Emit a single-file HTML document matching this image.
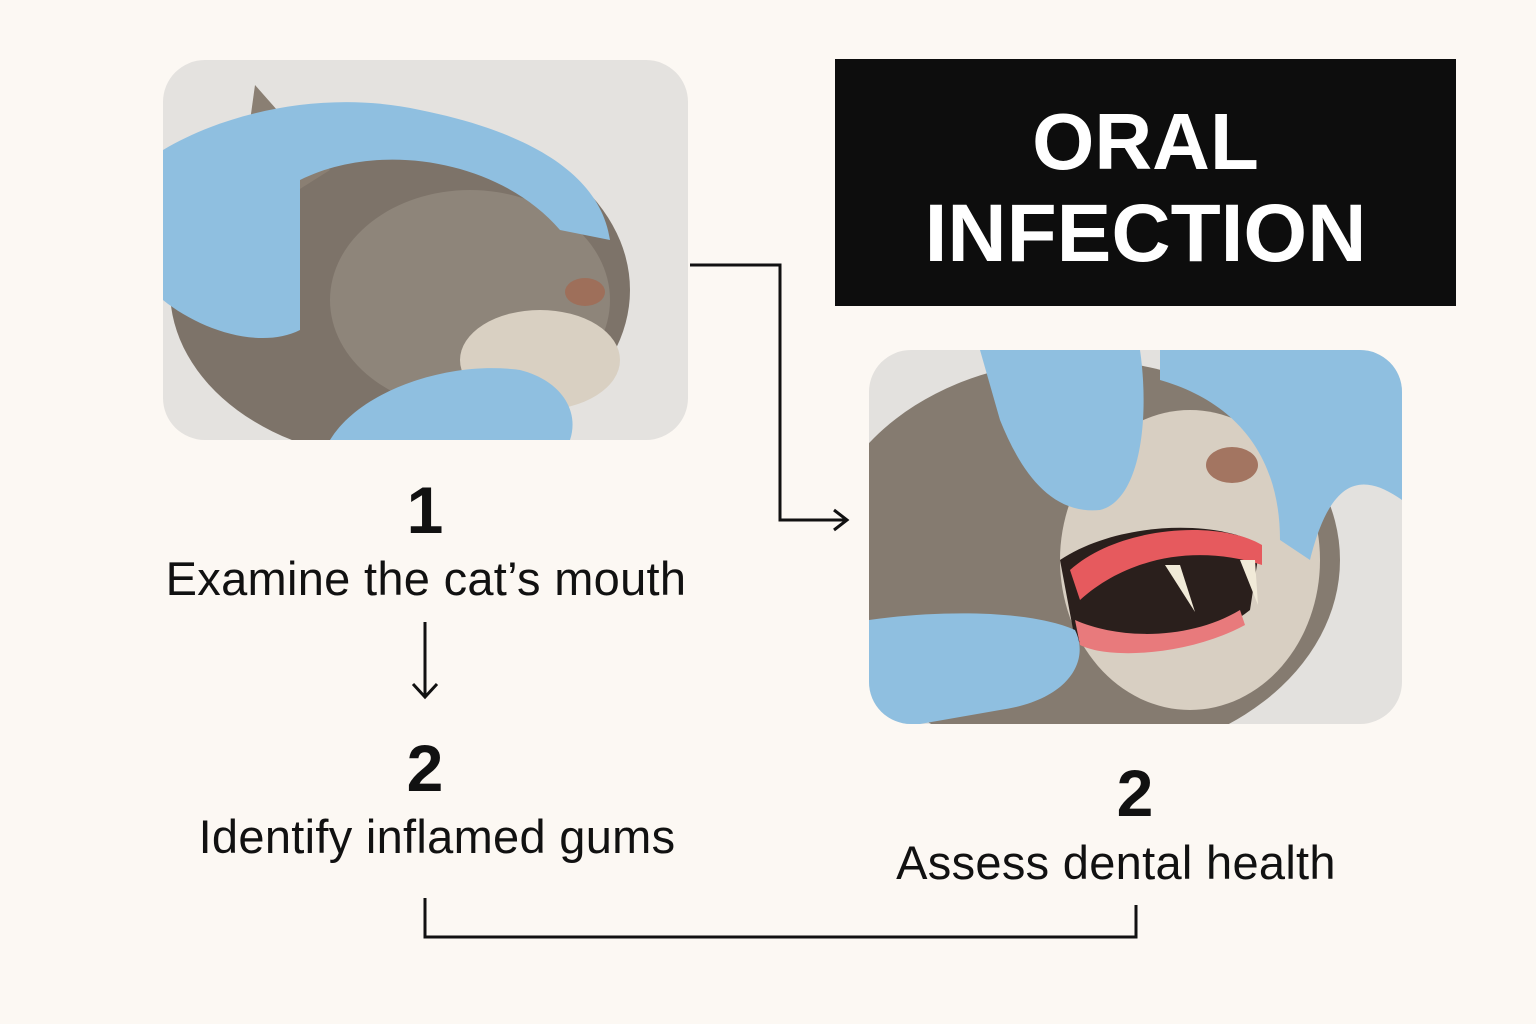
<!DOCTYPE html>
<html><head><meta charset="utf-8"><style>
body{margin:0;width:1536px;height:1024px;background:#fcf8f3;overflow:hidden;font-family:"Liberation Sans","DejaVu Sans",sans-serif;color:#111;position:relative}
.t{position:absolute;text-align:center;white-space:nowrap}
.s{font-size:47px;letter-spacing:0.3px}
</style></head><body>
<svg width="1536" height="1024" style="position:absolute;left:0;top:0">
<defs>
<clipPath id="c1"><rect x="163" y="60" width="525" height="380" rx="42"/></clipPath>
<clipPath id="c2"><rect x="869" y="350" width="533" height="374" rx="42"/></clipPath>
</defs>
<g clip-path="url(#c1)">
<rect x="163" y="60" width="525" height="380" fill="#e4e2df"/>
<ellipse cx="400" cy="290" rx="230" ry="170" fill="#7d7369"/>
<ellipse cx="470" cy="300" rx="140" ry="110" fill="#8e857a"/>
<ellipse cx="540" cy="360" rx="80" ry="50" fill="#d9d0c2"/>
<polygon points="235,230 255,85 330,170" fill="#8a7f73"/>
<path d="M163,150 C230,110 330,90 420,110 C520,130 600,170 610,240 L560,230 C500,160 380,140 300,180 L300,330 C260,350 200,330 163,300 Z" fill="#8fbfe0"/>
<path d="M330,440 C360,390 450,360 520,370 C560,380 580,410 570,440 Z" fill="#8fbfe0"/>
<ellipse cx="585" cy="292" rx="20" ry="14" fill="#9e6f5a"/>
</g>
<rect x="835" y="59" width="621" height="247" fill="#0d0d0d"/>
<g clip-path="url(#c2)">
<rect x="869" y="350" width="533" height="374" fill="#e3e1de"/>
<ellipse cx="1080" cy="560" rx="260" ry="200" fill="#857b70"/>
<ellipse cx="1190" cy="560" rx="130" ry="150" fill="#d8cfc2"/>
<path d="M1060,560 C1120,520 1220,520 1260,545 L1250,610 C1200,650 1110,660 1075,640 Z" fill="#2a1f1c"/>
<path d="M1070,570 C1120,525 1220,520 1262,545 L1262,565 C1200,545 1130,555 1080,600 Z" fill="#e65a5e"/>
<path d="M1075,620 C1120,640 1190,640 1240,610 L1245,625 C1190,655 1110,660 1080,645 Z" fill="#e87a7c"/>
<polygon points="1165,565 1180,565 1195,612" fill="#f1ead8"/>
<polygon points="1240,560 1255,560 1258,605" fill="#f1ead8"/>
<path d="M980,350 L1140,350 C1150,420 1140,500 1100,510 C1050,515 1020,470 1000,420 Z" fill="#8fbfe0"/>
<path d="M1160,350 L1402,350 L1402,500 C1360,470 1330,480 1310,560 L1280,540 C1280,450 1230,400 1160,380 Z" fill="#8fbfe0"/>
<path d="M869,620 C940,610 1030,610 1075,630 C1090,660 1070,700 1000,710 L920,724 L869,724 Z" fill="#8fbfe0"/>
<ellipse cx="1232" cy="465" rx="26" ry="18" fill="#a37561"/>
</g>
<g fill="none" stroke="#111" stroke-width="3">
<polyline points="690,265 780,265 780,520 846,520"/>
<polyline points="834,510 847,520 834,530"/>
<line x1="425" y1="622" x2="425" y2="697"/>
<polyline points="413,684 425,697 437,684"/>
<polyline points="425,898 425,937 1136,937 1136,905"/>
</g>
</svg>
<div class="t" style="left:835px;width:621px;top:96px;color:#fff;font-weight:bold;font-size:80px;line-height:92px">ORAL<br><span style="font-size:82px">INFECTION</span></div>
<div class="t" style="left:325px;width:200px;top:472px;font-weight:bold;font-size:66px">1</div>
<div class="t s" style="left:126px;width:600px;top:551px">Examine the cat’s mouth</div>
<div class="t" style="left:325px;width:200px;top:730px;font-weight:bold;font-size:66px">2</div>
<div class="t s" style="left:137px;width:600px;top:809px">Identify inflamed gums</div>
<div class="t" style="left:1035px;width:200px;top:755px;font-weight:bold;font-size:66px">2</div>
<div class="t s" style="left:816px;width:600px;top:835px">Assess dental health</div>
</body></html>
